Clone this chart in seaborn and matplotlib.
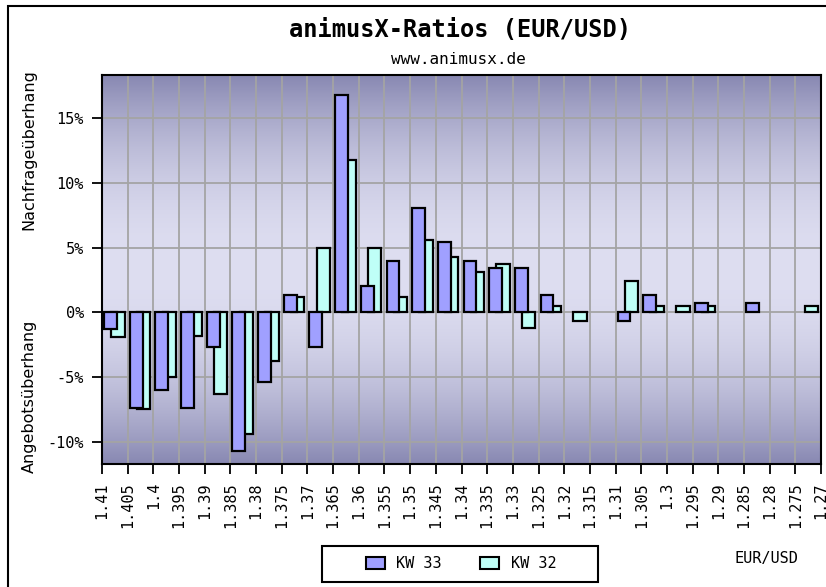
import numpy as np
import pandas as pd
import matplotlib
matplotlib.use("Agg")
import matplotlib.pyplot as plt
from matplotlib.patches import Patch, Rectangle
import seaborn as sns

nan = np.nan
# ---- data ----
tick_labels = ["1.41", "1.405", "1.4", "1.395", "1.39", "1.385", "1.38", "1.375",
               "1.37", "1.365", "1.36", "1.355", "1.35", "1.345", "1.34", "1.335",
               "1.33", "1.325", "1.32", "1.315", "1.31", "1.305", "1.3", "1.295",
               "1.29", "1.285", "1.28", "1.275", "1.27"]
interval_index = list(range(28))
kw33 = [-1.3, -7.4, -6.0, -7.4, -2.7, -10.7, -5.4, 1.3, -2.7, 16.8,
        2.0, 4.0, 8.1, 5.4, 4.0, 3.4, 3.4, 1.3, nan, nan,
        -0.7, 1.3, nan, 0.7, nan, 0.7, nan, nan]
kw32 = [-1.9, -7.5, -5.0, -1.8, -6.3, -9.4, -3.8, 1.2, 5.0, 11.8,
        5.0, 1.2, 5.6, 4.3, 3.1, 3.7, -1.2, 0.5, -0.7, nan,
        2.4, 0.5, 0.5, 0.5, nan, nan, nan, 0.5]
series_names = ["KW 33", "KW 32"]
y_ticks = [-10, -5, 0, 5, 10, 15]

c33 = "#a0a0ff"
c32 = "#bffff7"

sns.set_theme(style="white")
plt.rcParams["font.family"] = ["DejaVu Sans Mono", "DejaVu Sans"]
plt.rcParams["text.color"] = "black"
plt.rcParams["xtick.color"] = "black"
plt.rcParams["ytick.color"] = "black"
plt.rcParams["axes.labelcolor"] = "black"

fig = plt.figure(figsize=(8.26, 5.87), dpi=100)
fig.patch.set_facecolor("white")
W, H = 826, 587
L, R, T, B = 102, 821, 75, 464
ax = fig.add_axes([L / W, 1 - B / H, (R - L) / W, (B - T) / H])

# gradient background
ny = 400
t = np.linspace(0, 1, ny)
prof = np.abs(t - 0.5) / 0.5
prof = prof ** 2
light = np.array([222, 222, 241]) / 255
dark = np.array([136, 136, 178]) / 255
cols = light[None, :] + (dark - light)[None, :] * prof[:, None]
img = np.repeat(cols[:, None, :], 2, axis=1)
ax.imshow(img, extent=(0, 1, 0, 1), transform=ax.transAxes, aspect="auto",
          zorder=-2, interpolation="bilinear")

df32 = pd.DataFrame({"pos": [i + 0.62 for i in interval_index], "value": kw32}).dropna()
df33 = pd.DataFrame({"pos": [i + 0.33 for i in interval_index], "value": kw33}).dropna()

sns.barplot(data=df32, x="pos", y="value", native_scale=True, orient="x",
            width=0.52, color=c32, saturation=1, edgecolor="black",
            linewidth=1.6, errorbar=None, ax=ax)
sns.barplot(data=df33, x="pos", y="value", native_scale=True, orient="x",
            width=0.5, color=c33, saturation=1, edgecolor="black",
            linewidth=1.6, errorbar=None, ax=ax)

ax.set_xlim(0, 28)
ax.set_ylim(-11.73, 18.35)
ax.set_xticks(range(29))
ax.set_xticklabels(tick_labels, rotation=90, va="top", ha="center", fontsize=11)
ax.set_yticks(y_ticks)
ax.set_yticklabels([f"{v}%" for v in y_ticks], fontsize=11)
ax.set_xlabel("")
ax.set_ylabel("")
ax.grid(True, color="#a4a4a4", linewidth=1.3)
ax.set_axisbelow(True)
ax.tick_params(axis="both", which="major", length=7, width=1.3, color="black",
               direction="out", bottom=True, left=True, pad=6)
for s in ax.spines.values():
    s.set_color("black")
    s.set_linewidth(1.5)
    s.set_visible(True)

# titles
fig.text(460 / W, 1 - 30 / H, "animusX-Ratios (EUR/USD)", ha="center", va="center",
         fontsize=17, fontweight="bold")
fig.text(458 / W, 1 - 59 / H, "www.animusx.de", ha="center", va="center", fontsize=11.5)

# y-side labels
fig.text(29 / W, 1 - 150 / H, "Nachfrageüberhang", rotation=90, ha="center",
         va="center", fontsize=11.5, family=["DejaVu Sans"])
fig.text(29 / W, 1 - 396 / H, "Angebotsüberhang", rotation=90, ha="center",
         va="center", fontsize=11.5, family=["DejaVu Sans"])
fig.text(766 / W, 1 - 558 / H, "EUR/USD", ha="center", va="center", fontsize=11)

# legend
fig.patches.append(Rectangle((322 / W, 1 - 582 / H), (598 - 322) / W, 36 / H,
                             transform=fig.transFigure, fill=True, facecolor="white",
                             edgecolor="black", linewidth=1.5, zorder=1))
handles = [Patch(facecolor=c33, edgecolor="black", linewidth=1.5),
           Patch(facecolor=c32, edgecolor="black", linewidth=1.5)]
leg = fig.legend(handles, series_names, loc="center", bbox_to_anchor=(461 / W, 1 - 564 / H),
                 ncol=2, frameon=False, fontsize=11, handlelength=1.25,
                 handleheight=0.8, columnspacing=2.5, handletextpad=0.75,
                 borderpad=0, borderaxespad=0)
leg.set_zorder(2)

# outer frame
fig.patches.append(Rectangle((8 / W, -0.02), 1.05, 1.02 - 6 / H, transform=fig.transFigure,
                             fill=False, edgecolor="black", linewidth=1.5))

fig.savefig("out.png", dpi=100)
